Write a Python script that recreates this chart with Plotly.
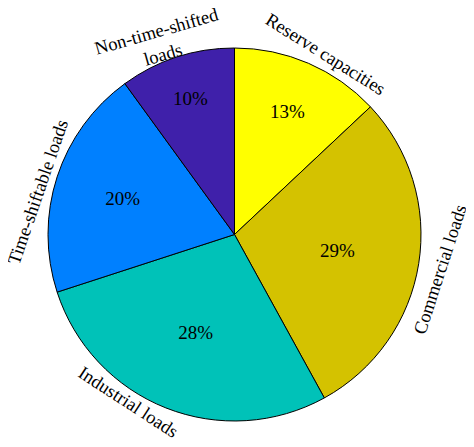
import plotly.graph_objects as go

# the page puts an 8px body margin round the figure, so the figure is a bit
# smaller than the window and reference pixels are shifted by OFF
OFF = 8
W, H = 474 - 2 * OFF, 447 - 2 * OFF

labels = ["Reserve capacities", "Commercial loads", "Industrial loads",
          "Time-shiftable loads", "Non-time-shifted<br>loads"]
shares = [13, 29, 28, 20, 10]
colors = ["#ffff00", "#d4c200", "#00c2b8", "#0080ff", "#3f20aa"]

# where the outer captions sit (reference pixels) and how they are turned
label_pos = [(325, 54), (440, 270), (128, 402), (38, 192), (160, 43)]
label_angle = [32, -72, 33, -71, -16]


def px2paper(px, py):
    return (px - OFF) / W, 1 - (py - OFF) / H


x0, y1 = px2paper(48, 48)
x1, y0 = px2paper(421, 421)

fig = go.Figure(go.Pie(
    labels=labels,
    values=shares,
    sort=False,
    direction="clockwise",
    rotation=0,
    marker=dict(colors=colors, line=dict(color="black", width=1)),
    textinfo="percent",
    texttemplate="%{percent:.0%}",
    textposition="inside",
    insidetextorientation="horizontal",
    textfont=dict(family="Liberation Serif", size=19, color="black"),
    domain=dict(x=[x0, x1], y=[y0, y1]),
    hoverinfo="label+percent",
))

for text, (px, py), ang in zip(labels, label_pos, label_angle):
    ax, ay = px2paper(px, py)
    fig.add_annotation(
        text=text, x=ax, y=ay, xref="paper", yref="paper",
        xanchor="center", yanchor="middle", showarrow=False, textangle=ang,
        font=dict(family="Liberation Serif", size=18.5, color="black"),
    )

fig.update_layout(
    width=W, height=H,
    margin=dict(l=0, r=0, t=0, b=0),
    paper_bgcolor="white",
    showlegend=False,
)

fig.write_html("out.html")
